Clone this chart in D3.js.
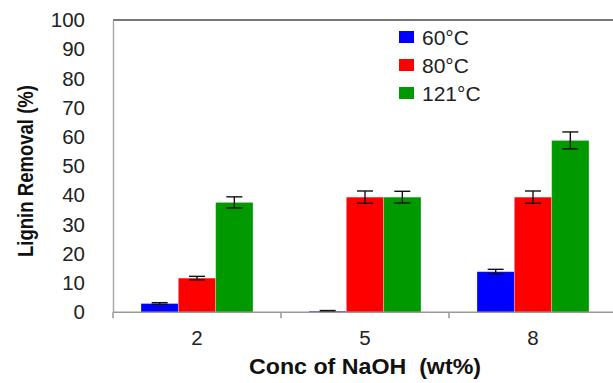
<!DOCTYPE html>
<html>
<head>
<meta charset="utf-8">
<script src="https://cdn.jsdelivr.net/npm/d3@7"></script>
<style>
  html, body { margin: 0; padding: 0; background: #fff; }
  svg { display: block; }
  text { font-family: Arial, "Liberation Sans", sans-serif; }
</style>
</head>
<body>
<svg id="chart" width="613" height="383"></svg>
<script>
// NaOH concentration (wt%) on the x axis
const categories = ["2", "5", "8"];
// pretreatment temperatures
const series = ["60°C", "80°C", "121°C"];
const colors = ["#0000ff", "#ff0000", "#009900"];
// lignin removal (%) per temperature, one value per concentration
const removal60 = [3.0, 0.4, 13.9];
const removal80 = [11.7, 39.4, 39.4];
const removal121 = [37.6, 39.4, 58.8];
// standard deviations for the error bars
const err60 = [0.3, 0.2, 0.8];
const err80 = [0.6, 2.1, 2.1];
const err121 = [1.9, 2.0, 2.9];
const yTicks = [0, 10, 20, 30, 40, 50, 60, 70, 80, 90, 100];

const values = [removal60, removal80, removal121];
const errors = [err60, err80, err121];

const svg = d3.select("#chart");
const mLeft = 113, mTop = 20, mBottom = 312.3, mRight = 617;

const x0 = d3.scaleBand().domain(categories).range([mLeft, mRight]).paddingInner(0).paddingOuter(0);
const x1 = d3.scaleBand().domain(series).range([0, x0.bandwidth()]).paddingInner(0).paddingOuter(0.75);
const y = d3.scaleLinear().domain([0, 100]).range([mBottom, mTop]);

// frame line along the top of the plot
svg.append("line")
  .attr("x1", mLeft).attr("x2", 613)
  .attr("y1", mTop).attr("y2", mTop)
  .attr("stroke", "#777").attr("stroke-width", 2);

// bars
const rows = [];
categories.forEach((c, i) => {
  series.forEach((s, j) => {
    rows.push({ c, s, j, v: values[j][i], e: errors[j][i] });
  });
});

svg.append("g").selectAll("rect").data(rows).join("rect")
  .attr("x", d => x0(d.c) + x1(d.s))
  .attr("y", d => y(d.v))
  .attr("width", x1.bandwidth())
  .attr("height", d => y(0) - y(d.v))
  .attr("fill", d => colors[d.j])
  .attr("stroke", "#fff").attr("stroke-opacity", 0.35).attr("stroke-width", 0.8);

// error bars
const eb = svg.append("g").attr("stroke", "#111").attr("stroke-width", 1.4);
rows.forEach(d => {
  const cx = x0(d.c) + x1(d.s) + x1.bandwidth() / 2;
  const hi = y(d.v + d.e), lo = y(Math.max(0, d.v - d.e));
  eb.append("line").attr("x1", cx).attr("x2", cx).attr("y1", hi).attr("y2", lo);
  eb.append("line").attr("x1", cx - 8).attr("x2", cx + 8).attr("y1", hi).attr("y2", hi);
  eb.append("line").attr("x1", cx - 8).attr("x2", cx + 8).attr("y1", lo).attr("y2", lo);
});

// y axis
const yAxis = svg.append("g")
  .attr("transform", `translate(${mLeft},0)`)
  .call(d3.axisLeft(y).tickValues(yTicks).tickSize(0).tickPadding(28));
yAxis.select(".domain").attr("stroke", "#aaa").attr("stroke-width", 1.5);
yAxis.selectAll("text").attr("font-size", 20.5).attr("fill", "#222")
  .attr("font-family", "Arial, 'Liberation Sans', sans-serif");

// x axis with ticks on category boundaries
const xAxis = svg.append("g").attr("transform", `translate(0,${mBottom})`);
xAxis.append("line").attr("x1", mLeft).attr("x2", mRight).attr("stroke", "#999").attr("stroke-width", 1.5);
xAxis.selectAll("line.tk").data(categories.concat(["end"])).join("line")
  .attr("class", "tk")
  .attr("x1", (d, i) => i < categories.length ? x0(d) : mRight)
  .attr("x2", (d, i) => i < categories.length ? x0(d) : mRight)
  .attr("y1", 0).attr("y2", 6)
  .attr("stroke", "#999").attr("stroke-width", 1.5);
xAxis.selectAll("text").data(categories).join("text")
  .attr("x", d => x0(d) + x0.bandwidth() / 2)
  .attr("y", 33)
  .attr("text-anchor", "middle")
  .attr("font-size", 20.5).attr("fill", "#222")
  .text(d => d);

// axis titles
svg.append("text")
  .attr("x", 365).attr("y", 374)
  .attr("text-anchor", "middle")
  .attr("font-size", 21.5).attr("font-weight", "bold").attr("fill", "#111")
  .attr("textLength", 232).attr("lengthAdjust", "spacingAndGlyphs")
  .style("white-space", "pre")
  .text("Conc of NaOH  (wt%)");

svg.append("text")
  .attr("transform", "translate(33,171) rotate(-90)")
  .attr("text-anchor", "middle")
  .attr("font-size", 22).attr("font-weight", "bold").attr("fill", "#111")
  .attr("font-family", "'Liberation Sans Narrow', 'Arial Narrow', Arial, sans-serif")
  .attr("textLength", 172).attr("lengthAdjust", "spacingAndGlyphs")
  .text("Lignin Removal (%)");

// legend
const legend = svg.append("g").selectAll("g").data(series).join("g")
  .attr("transform", (d, i) => `translate(399,${37 + i * 28})`);
legend.append("rect")
  .attr("x", 0).attr("y", -6).attr("width", 15).attr("height", 12)
  .attr("fill", (d, i) => colors[i]);
legend.append("text")
  .attr("x", 23).attr("y", 7.5)
  .attr("font-size", 21).attr("fill", "#222")
  .text(d => d);
</script>
</body>
</html>
